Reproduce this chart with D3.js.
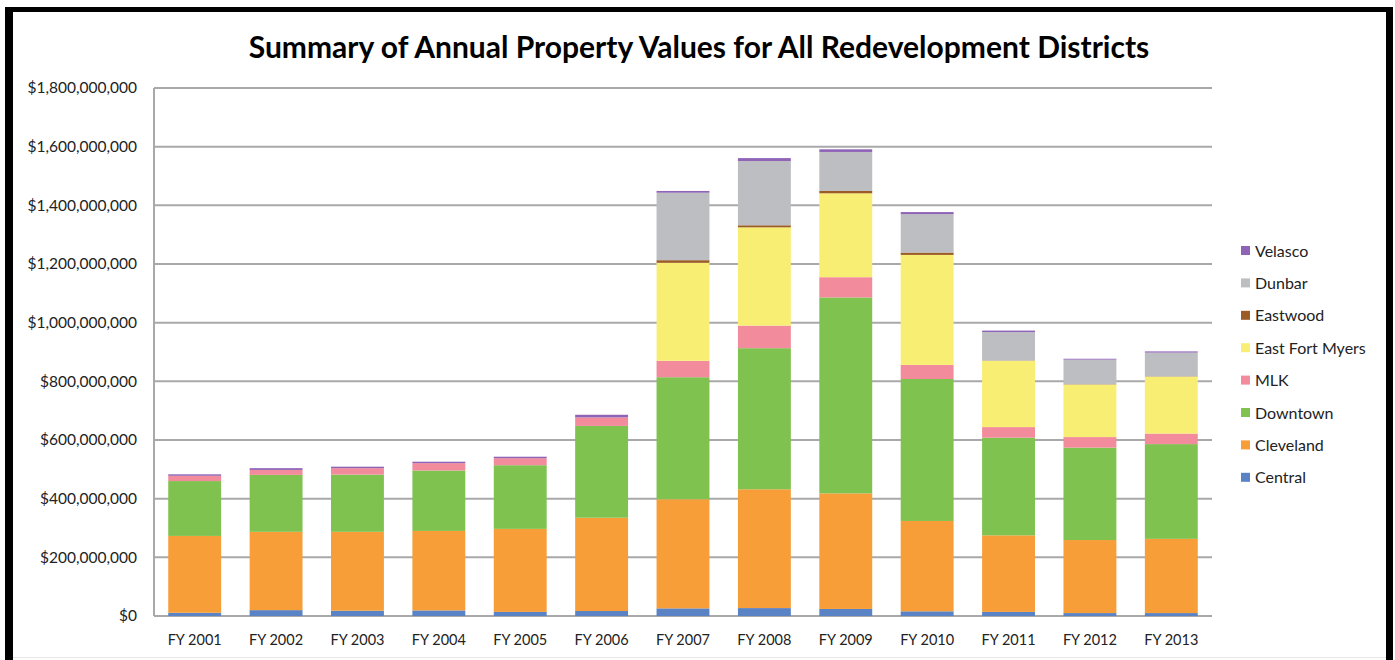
<!DOCTYPE html>
<html>
<head>
<meta charset="utf-8">
<script src="https://cdn.jsdelivr.net/npm/d3@7"></script>
<style>
  body { margin: 0; background: #fff; }
  text { font-family: Lato, "Open Sans", sans-serif; fill: #222; }
</style>
</head>
<body>
<div id="chart"></div>
<script>
// data, values in $ millions
var years = ["FY 2001","FY 2002","FY 2003","FY 2004","FY 2005","FY 2006","FY 2007",
             "FY 2008","FY 2009","FY 2010","FY 2011","FY 2012","FY 2013"];
var districts = ["Central","Cleveland","Downtown","MLK","East Fort Myers","Eastwood","Dunbar","Velasco"];
var central   = [11, 20, 18, 19, 14, 17, 26, 27, 24, 16, 14, 10, 10];
var cleveland = [262, 267, 269, 271, 283, 318, 372, 405, 394, 308, 261, 249, 253];
var downtown  = [187, 194, 195, 206, 217, 313, 416, 481, 668, 484, 333, 315, 323];
var mlk       = [18, 17, 22, 25, 24, 29, 56, 77, 69, 48, 36, 36, 36];
var eastFtMyers = [0, 0, 0, 0, 0, 0, 334, 335, 286, 375, 226, 179, 194];
var eastwood  = [0, 0, 0, 0, 0, 0, 9, 7, 8, 8, 1, 1, 1];
var dunbar    = [0, 0, 0, 0, 0, 0, 230, 219, 133, 131, 97, 84, 81];
var velasco   = [5, 6, 5, 5, 5, 9, 6, 10, 9, 7, 5, 3, 4];
var yTicks = [0, 200, 400, 600, 800, 1000, 1200, 1400, 1600, 1800];
var colors = ["#5a83c5", "#f79e38", "#7fc24f", "#f28c9c", "#f9ee74", "#9b5c26", "#bdbec1", "#8f63b6"];

var seriesValues = [central, cleveland, downtown, mlk, eastFtMyers, eastwood, dunbar, velasco];
var table = years.map(function(y, i) {
  var row = {year: y};
  districts.forEach(function(d, k) { row[d] = seriesValues[k][i]; });
  return row;
});

var W = 1395, H = 660;
var margin = {top: 88, left: 154, right: 183, bottom: 44};
var plotW = W - margin.left - margin.right;
var plotH = H - margin.top - margin.bottom;

var svg = d3.select("#chart").append("svg")
  .attr("width", W)
  .attr("height", H);

// frame of the pasted picture
svg.append("rect").attr("x", 5).attr("y", 7).attr("width", 8).attr("height", H).attr("fill", "#000");
svg.append("rect").attr("x", 5).attr("y", 7).attr("width", 1388).attr("height", 5).attr("fill", "#000");
svg.append("rect").attr("x", 1386).attr("y", 7).attr("width", 7).attr("height", H).attr("fill", "#000");
svg.append("line").attr("x1", 13).attr("x2", 1386).attr("y1", 657.5).attr("y2", 657.5)
  .attr("stroke", "#e6e6e6").attr("stroke-width", 1);

svg.append("text")
  .attr("x", 699)
  .attr("y", 58)
  .attr("text-anchor", "middle")
  .attr("font-size", "30px")
  .attr("font-weight", "bold")
  .style("fill", "#000")
  .text("Summary of Annual Property Values for All Redevelopment Districts");

var g = svg.append("g")
  .attr("transform", "translate(" + margin.left + "," + margin.top + ")");

var x = d3.scaleBand()
  .domain(years)
  .range([0, plotW])
  .paddingInner(0.35)
  .paddingOuter(0.175);

var y = d3.scaleLinear()
  .domain([0, 1800])
  .range([plotH, 0]);

// gridlines
g.selectAll(".grid")
  .data(yTicks)
  .enter().append("line")
  .attr("x1", 0)
  .attr("x2", plotW)
  .attr("y1", d => y(d))
  .attr("y2", d => y(d))
  .attr("stroke", "#a9a9a9")
  .attr("stroke-width", 2);

g.append("line")
  .attr("x1", 0).attr("x2", 0)
  .attr("y1", 0).attr("y2", plotH)
  .attr("stroke", "#a9a9a9")
  .attr("stroke-width", 2);

var fmt = d3.format(",");
g.selectAll(".ylab")
  .data(yTicks)
  .enter().append("text")
  .attr("x", -17)
  .attr("y", d => y(d))
  .attr("dy", "0.35em")
  .attr("text-anchor", "end")
  .attr("font-size", "15.5px")
  .text(d => "$" + fmt(d * 1000000));

g.selectAll(".xlab")
  .data(years)
  .enter().append("text")
  .attr("x", d => x(d) + x.bandwidth() / 2)
  .attr("y", plotH + 29)
  .attr("text-anchor", "middle")
  .attr("font-size", "14.5px")
  .text(d => d);

var stack = d3.stack().keys(districts);
var layers = stack(table);

g.selectAll(".layer")
  .data(layers)
  .enter().append("g")
  .attr("fill", (d, i) => colors[i])
  .selectAll("rect")
  .data(d => d)
  .enter().append("rect")
  .attr("x", d => x(d.data.year))
  .attr("width", x.bandwidth())
  .attr("y", d => y(d[1]))
  .attr("height", d => y(d[0]) - y(d[1]));

// legend, reversed order like the original
var legend = svg.append("g")
  .attr("transform", "translate(1241, 251)");
var legItems = legend.selectAll("g")
  .data(districts.slice().reverse())
  .enter().append("g")
  .attr("transform", (d, i) => "translate(0," + (i * 32.4) + ")");
legItems.append("rect")
  .attr("x", 0)
  .attr("y", -5)
  .attr("width", 9)
  .attr("height", 9)
  .attr("fill", d => colors[districts.indexOf(d)]);
legItems.append("text")
  .attr("x", 14)
  .attr("y", 0)
  .attr("dy", "0.35em")
  .attr("font-size", "16px")
  .text(d => d);
</script>
</body>
</html>
